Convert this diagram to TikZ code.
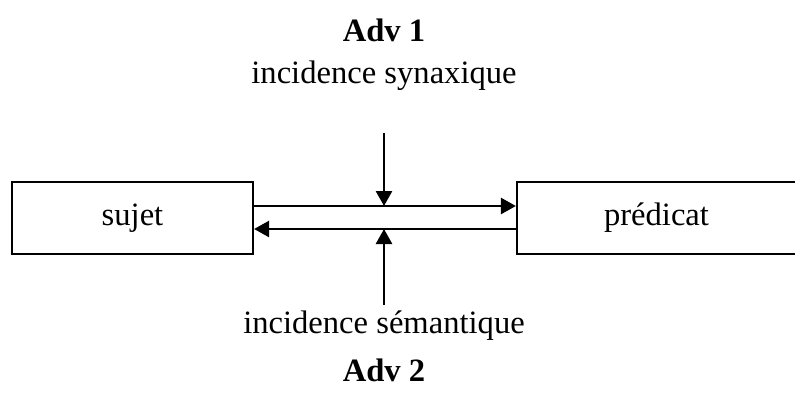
\documentclass[tikz,border=0pt]{standalone}
\usepackage{fontspec}
\setmainfont{Liberation Serif}
\usetikzlibrary{positioning,calc,arrows.meta}

\begin{document}
\begin{tikzpicture}[
    x=0.5pt,
    y=-0.5pt,
    font=\fontsize{16.3}{19}\selectfont,
    >={Triangle[length=7.5pt,width=8pt]},
    term/.style={draw, line width=1.1pt, minimum height=36pt, inner sep=0pt},
    link/.style={line width=1.3pt, ->},
    advlabel/.style={font=\fontsize{16.3}{19}\selectfont\bfseries},
    inclabel/.style={inner sep=0pt}
]
\useasboundingbox (0,0) rectangle (795,392);

% Boxes for subject and predicate
\node[term, minimum width=120.5pt] (sujet) at (132.5,218) {sujet};
\node[term, minimum width=139.5pt] (predicat) at (656.5,218) {prédicat};

% Labels above and below
\node[advlabel] (adv1) at (384,30) {Adv 1};
\node[inclabel] (incsyn) at (384,76) {incidence synaxique};
\node[inclabel] (incsem) at (384,326) {incidence sémantique};
\node[advlabel] (adv2) at (384,370) {Adv 2};

% Points on the box edges
\coordinate (sujetHi) at ($(sujet.east)+(0,-12)$);
\coordinate (sujetLo) at ($(sujet.east)+(0,11)$);
\coordinate (predHi) at ($(predicat.west)+(0,-12)$);
\coordinate (predLo) at ($(predicat.west)+(0,11)$);

% Horizontal links
\draw[link] (sujetHi) -- (predHi);
\draw[link] (predLo) -- (sujetLo);

% Vertical arrows meeting the links
\coordinate (synTop) at (384,133);
\coordinate (synEnd) at (384,206);
\coordinate (semBot) at (384,305);
\coordinate (semEnd) at (384,229);
\draw[link] (synTop) -- (synEnd);
\draw[link] (semBot) -- (semEnd);

\end{tikzpicture}
\end{document}
